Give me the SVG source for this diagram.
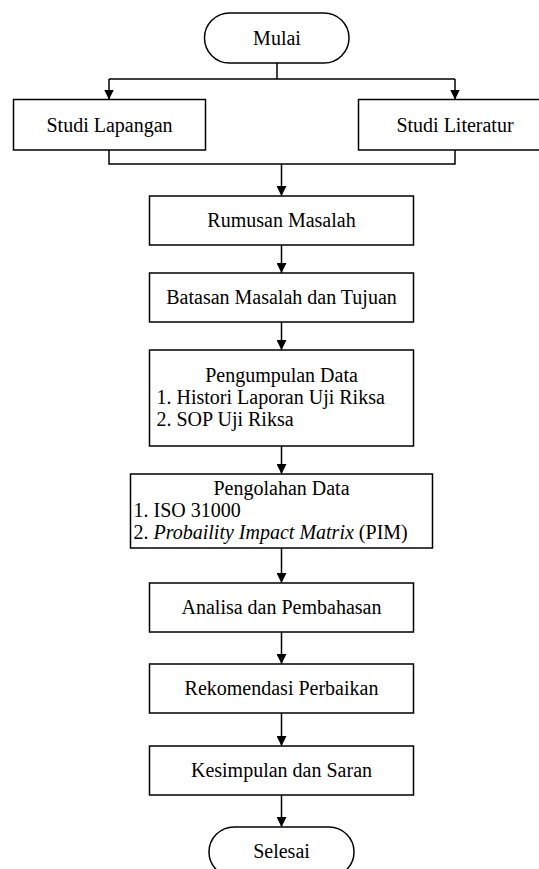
<svg xmlns="http://www.w3.org/2000/svg" width="539" height="869" viewBox="0 0 539 869">
<style>
.b{fill:#fff;stroke:#000;stroke-width:1.5}
.c{fill:none;stroke:#000;stroke-width:1.5}
text{font-family:'Liberation Serif','Times New Roman','DejaVu Serif',serif;font-size:20px;fill:#000}
.m{text-anchor:middle}
</style>
<defs>
<marker id="ah" viewBox="0 0 10 10" refX="10" refY="5" markerWidth="10" markerHeight="10" markerUnits="userSpaceOnUse" orient="auto">
<path d="M0,0 L10,5 L0,10 Z" fill="#000"/>
</marker>
</defs>
<rect width="539" height="869" fill="#fff"/>
<g id="connectors">
<path class="c" d="M277,63 V79 M109,79 H455"/>
<path class="c" d="M109,79 V99.5" marker-end="url(#ah)"/>
<path class="c" d="M455,79 V99.5" marker-end="url(#ah)"/>
<path class="c" d="M109,150 V164 H455 V150"/>
<path class="c" d="M281.5,164 V196" marker-end="url(#ah)"/>
<path class="c" d="M281.5,245 V273" marker-end="url(#ah)"/>
<path class="c" d="M281.5,322 V350" marker-end="url(#ah)"/>
<path class="c" d="M281.5,446 V474" marker-end="url(#ah)"/>
<path class="c" d="M281.5,548 V583" marker-end="url(#ah)"/>
<path class="c" d="M281.5,632 V664" marker-end="url(#ah)"/>
<path class="c" d="M281.5,713 V746" marker-end="url(#ah)"/>
<path class="c" d="M281.5,795 V827" marker-end="url(#ah)"/>
</g>
<g id="mulai">
<rect class="b" x="204.5" y="13" width="144.5" height="50" rx="25" ry="25"/>
<text class="m" x="277" y="45" font-family="Liberation Serif, serif">Mulai</text>
</g>
<g id="studi-lapangan">
<rect class="b" x="13.5" y="99.5" width="192" height="50.5"/>
<text class="m" x="109.5" y="132" font-family="Liberation Serif, serif">Studi Lapangan</text>
</g>
<g id="studi-literatur">
<rect class="b" x="358.5" y="99.5" width="193" height="50.5"/>
<text class="m" x="455" y="132" font-family="Liberation Serif, serif">Studi Literatur</text>
</g>
<g id="rumusan">
<rect class="b" x="149.5" y="196" width="264" height="49"/>
<text class="m" x="281.5" y="227" font-family="Liberation Serif, serif">Rumusan Masalah</text>
</g>
<g id="batasan">
<rect class="b" x="149.5" y="273" width="264" height="49"/>
<text class="m" x="281.5" y="304" font-family="Liberation Serif, serif">Batasan Masalah dan Tujuan</text>
</g>
<g id="pengumpulan">
<rect class="b" x="149.5" y="350" width="264" height="96"/>
<text class="m" x="281.5" y="382" font-family="Liberation Serif, serif">Pengumpulan Data</text>
<text x="156.5" y="404" font-family="Liberation Serif, serif">1. Histori Laporan Uji Riksa</text>
<text x="156.5" y="426" font-family="Liberation Serif, serif">2. SOP Uji Riksa</text>
</g>
<g id="pengolahan">
<rect class="b" x="130.5" y="474" width="302" height="74"/>
<text class="m" x="281.5" y="495" font-family="Liberation Serif, serif">Pengolahan Data</text>
<text x="133.5" y="517" font-family="Liberation Serif, serif">1. ISO 31000</text>
<text x="133.5" y="539" font-family="Liberation Serif, serif">2. <tspan font-style="italic">Probaility Impact Matrix</tspan> (PIM)</text>
</g>
<g id="analisa">
<rect class="b" x="149.5" y="583" width="264" height="49"/>
<text class="m" x="281.5" y="614" font-family="Liberation Serif, serif">Analisa dan Pembahasan</text>
</g>
<g id="rekomendasi">
<rect class="b" x="149.5" y="664" width="264" height="49"/>
<text class="m" x="281.5" y="695" font-family="Liberation Serif, serif">Rekomendasi Perbaikan</text>
</g>
<g id="kesimpulan">
<rect class="b" x="149.5" y="746" width="264" height="49"/>
<text class="m" x="281.5" y="777" font-family="Liberation Serif, serif">Kesimpulan dan Saran</text>
</g>
<g id="selesai">
<rect class="b" x="209" y="827" width="145" height="50" rx="25" ry="25"/>
<text class="m" x="281.5" y="858" font-family="Liberation Serif, serif">Selesai</text>
</g>
</svg>
